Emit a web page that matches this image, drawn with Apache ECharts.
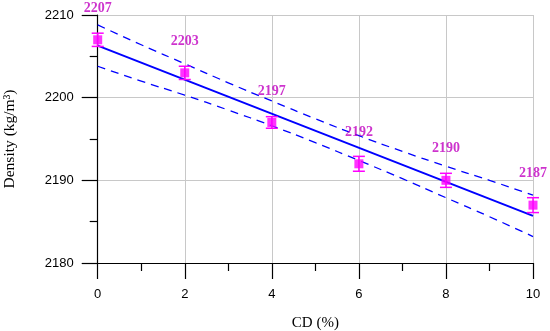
<!DOCTYPE html>
<html><head><meta charset="utf-8">
<script src="https://cdn.jsdelivr.net/npm/echarts@6/dist/echarts.min.js"></script>
<style>html,body{margin:0;padding:0;background:#fff}#c{width:550px;height:331px}</style>
</head><body><div id="c"></div>
<script>
var cd = [0, 2, 4, 6, 8, 10];
var density = [2207, 2203, 2197, 2192, 2190, 2187];
var errors = [0.8, 0.8, 0.7, 0.9, 0.85, 0.9];
var fitX = [0, 10];
var fitY = [2206.3, 2185.7];
var bandX = [0, 1, 2, 3, 4, 5, 6, 7, 8, 9, 10];
var bandUpper = [2208.8, 2206.4, 2204.1, 2201.8, 2199.6, 2197.45, 2195.4, 2193.5, 2191.7, 2190.0, 2188.2];
var bandLower = [2203.8, 2202.0, 2200.3, 2198.5, 2196.6, 2194.55, 2192.4, 2190.2, 2187.9, 2185.6, 2183.2];
var xTicks = [0, 2, 4, 6, 8, 10];
var yTicks = [2180, 2190, 2200, 2210];

function pairs(xs, ys) { return xs.map(function (x, i) { return [x, ys[i]]; }); }

var chart = echarts.init(document.getElementById('c'), null, {renderer: 'canvas'});
var magenta = '#ff00ff';
var labelColor = '#c000c0';
chart.setOption({
  animation: false,
  grid: {left: 97.7, right: 17, top: 15, bottom: 68, containLabel: false, outerBoundsMode: 'none'},
  xAxis: {
    type: 'value', min: xTicks[0], max: xTicks[xTicks.length - 1], interval: 2,
    name: 'CD (%)', nameLocation: 'middle', nameGap: 53,
    nameTextStyle: {fontFamily: 'Liberation Serif', fontSize: 15, color: '#000'},
    axisLine: {show: true, lineStyle: {color: '#000', width: 1.2}},
    axisTick: {show: true, inside: false, length: 16, lineStyle: {color: '#000', width: 1.2}},
    minorTick: {show: true, splitNumber: 2, length: 8, lineStyle: {color: '#000', width: 1.2}},
    axisLabel: {fontFamily: 'Liberation Sans', fontSize: 13, color: '#000', margin: 25,
                formatter: function (v) { return String(v); }},
    splitLine: {show: true, lineStyle: {color: '#c8c8c8', width: 1}}
  },
  yAxis: {
    type: 'value', min: yTicks[0], max: yTicks[yTicks.length - 1], interval: 10,
    name: 'Density (kg/m³)', nameLocation: 'middle', nameGap: 80,
    nameTextStyle: {fontFamily: 'Liberation Serif', fontSize: 15.5, color: '#000'},
    axisLine: {show: true, lineStyle: {color: '#000', width: 1.2}},
    axisTick: {show: true, inside: false, length: 16, lineStyle: {color: '#000', width: 1.2}},
    minorTick: {show: true, splitNumber: 2, length: 8, lineStyle: {color: '#000', width: 1.2}},
    axisLabel: {fontFamily: 'Liberation Sans', fontSize: 13, color: '#000', margin: 24,
                formatter: function (v) { return String(v); }},
    splitLine: {show: true, lineStyle: {color: '#c8c8c8', width: 1}}
  },
  series: [
    {type: 'line', data: pairs(bandX, bandUpper), showSymbol: false, smooth: true,
     lineStyle: {color: '#0000ff', width: 1.3, type: [8, 6]}, z: 2},
    {type: 'line', data: pairs(bandX, bandLower), showSymbol: false, smooth: true,
     lineStyle: {color: '#0000ff', width: 1.3, type: [8, 6]}, z: 2},
    {type: 'line', data: pairs(fitX, fitY), showSymbol: false,
     lineStyle: {color: '#0000ff', width: 2}, z: 3},
    {type: 'custom', z: 4,
     data: cd.map(function (x, i) { return [x, density[i] - errors[i], density[i] + errors[i]]; }),
     renderItem: function (params, api) {
       var lo = api.coord([api.value(0), api.value(1)]);
       var hi = api.coord([api.value(0), api.value(2)]);
       var hw = 6;
       var st = {stroke: magenta, lineWidth: 1.5};
       return {type: 'group', children: [
         {type: 'line', shape: {x1: lo[0], y1: lo[1], x2: hi[0], y2: hi[1]}, style: st},
         {type: 'line', shape: {x1: lo[0] - hw, y1: lo[1], x2: lo[0] + hw, y2: lo[1]}, style: st},
         {type: 'line', shape: {x1: hi[0] - hw, y1: hi[1], x2: hi[0] + hw, y2: hi[1]}, style: st}
       ]};
     }},
    {type: 'scatter', data: pairs(cd, density), symbol: 'rect', symbolSize: 9, z: 5,
     itemStyle: {color: magenta},
     label: {show: true, position: 'top', distance: 20, color: labelColor,
             fontFamily: 'Liberation Serif', fontSize: 14, fontWeight: 'bold',
             formatter: function (p) { return String(p.value[1]); }}}
  ]
});
</script></body></html>
